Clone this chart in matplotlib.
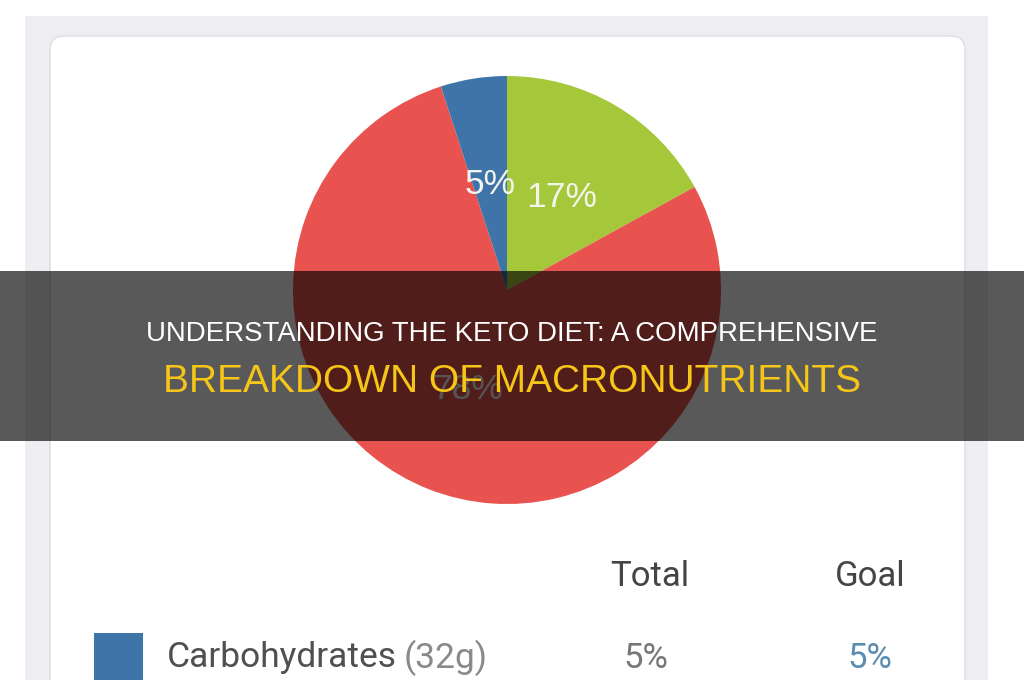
import matplotlib
matplotlib.use('Agg')
import matplotlib.pyplot as plt
from matplotlib.patches import Rectangle, FancyBboxPatch

# macro split shown in the pie (MyFitnessPal style colours)
macro_names = ['Protein', 'Fat', 'Carbohydrates']
macro_share = [17, 78, 5]
macro_colors = ['#A5C83B', '#E8534F', '#3F74A8']

# table row under the pie
col_headers = ['Total', 'Goal']
row_name = 'Carbohydrates'
row_grams = '(32g)'
row_total = '5%'
row_goal = '5%'

title_line1 = 'UNDERSTANDING THE KETO DIET: A COMPREHENSIVE'
title_line2 = 'BREAKDOWN OF MACRONUTRIENTS'

W, H = 1024, 680
fig = plt.figure(figsize=(W / 100, H / 100), dpi=100)
fig.patch.set_facecolor('white')

# background: grey panel + white rounded card, pixel coords
bg = fig.add_axes([0, 0, 1, 1], zorder=0)
bg.set_xlim(0, W)
bg.set_ylim(H, 0)
bg.axis('off')
bg.add_patch(Rectangle((25, 16), 963, 700, color='#EEEEF2', lw=0))
bg.add_patch(FancyBboxPatch((50, 36), 915, 700,
                            boxstyle='round,pad=0,rounding_size=14',
                            facecolor='white', edgecolor='#E0E0E5', lw=1.2))

# pie, centre (507, 290), radius 214 px
cx, cy, r = 507, 290, 214
pie_ax = fig.add_axes([(cx - r) / W, 1 - (cy + r) / H, 2 * r / W, 2 * r / H], zorder=1)
wedges, texts, autotexts = pie_ax.pie(
    macro_share, colors=macro_colors, startangle=90, counterclock=False,
    autopct='%.0f%%', pctdistance=0.5, radius=1.0,
    wedgeprops=dict(linewidth=0),
    textprops=dict(color='#F4F4EE', fontsize=25.5, family='Liberation Sans'))
pie_ax.set_xlim(-1, 1)
pie_ax.set_ylim(-1, 1)
pie_ax.set_aspect('equal')
pie_ax.axis('off')

# table text
bg.text(650, 577, col_headers[0], ha='center', va='center', fontsize=25,
        color='#454545', family='Roboto')
bg.text(870, 577, col_headers[1], ha='center', va='center', fontsize=25,
        color='#454545', family='Roboto')
bg.add_patch(Rectangle((94, 633), 49, 60, color=macro_colors[2], lw=0))
name_txt = bg.text(167, 658, row_name, ha='left', va='center', fontsize=25.5,
                   color='#505050', family='Roboto')
fig.canvas.draw()
bb = name_txt.get_window_extent()
bg.text(bb.x1 + 7, 658, row_grams, ha='left', va='center', fontsize=25.5,
        color='#8A8A8A', family='Roboto')
bg.text(646, 658, row_total, ha='center', va='center', fontsize=25,
        color='#777777', family='Roboto')
bg.text(870, 658, row_goal, ha='center', va='center', fontsize=25,
        color='#5B8DB0', family='Roboto')

# dark title banner on top
top = fig.add_axes([0, 0, 1, 1], zorder=2)
top.set_xlim(0, W)
top.set_ylim(H, 0)
top.axis('off')
top.patch.set_alpha(0)
top.add_patch(Rectangle((0, 271), W, 170, color='black', alpha=0.65, lw=0))
top.text(W / 2, 334, title_line1, ha='center', va='center', fontsize=19.9,
         color='white', family='Liberation Sans')
top.text(W / 2, 382, title_line2, ha='center', va='center', fontsize=28,
         color='#F5C518', family='Liberation Sans')

fig.savefig('out.png', dpi=100)
